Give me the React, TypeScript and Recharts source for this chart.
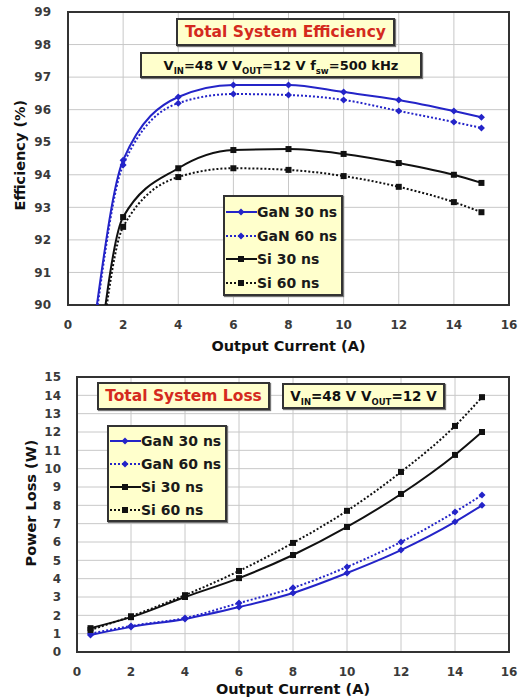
import { CartesianGrid, Line, LineChart, ReferenceArea, XAxis, YAxis } from 'recharts';

const currentTop = [1, 2, 4, 6, 8, 10, 12, 14, 15];
const effGaN30 = [89.7, 94.45, 96.39, 96.76, 96.76, 96.54, 96.3, 95.96, 95.77];
const effGaN60 = [89.5, 94.3, 96.2, 96.48, 96.45, 96.3, 95.96, 95.62, 95.44];
const effSi30 = [87.6, 92.7, 94.2, 94.76, 94.79, 94.64, 94.36, 94.0, 93.75];
const effSi60 = [87.3, 92.4, 93.93, 94.2, 94.15, 93.96, 93.63, 93.16, 92.85];

const currentBottom = [0.5, 2, 4, 6, 8, 10, 12, 14, 15];
const lossGaN30 = [0.93, 1.37, 1.8, 2.45, 3.22, 4.31, 5.56, 7.1, 8.0];
const lossGaN60 = [1.0, 1.42, 1.85, 2.67, 3.5, 4.64, 6.0, 7.64, 8.56];
const lossSi30 = [1.3, 1.9, 3.0, 4.03, 5.29, 6.82, 8.62, 10.75, 12.0];
const lossSi60 = [1.2, 1.95, 3.1, 4.42, 5.95, 7.7, 9.82, 12.33, 13.9];

const xTicks = [0, 2, 4, 6, 8, 10, 12, 14, 16];
const effTicks = [90, 91, 92, 93, 94, 95, 96, 97, 98, 99];
const lossTicks = [0, 1, 2, 3, 4, 5, 6, 7, 8, 9, 10, 11, 12, 13, 14, 15];

const BLUE = '#2424c8';
const BLACK = '#111';
const FONT = '"DejaVu Sans", Verdana, sans-serif';

const seriesDefs = [
    {key: 'gan30', name: 'GaN 30 ns', color: BLUE, dashed: false, marker: 'diamond'},
    {key: 'gan60', name: 'GaN 60 ns', color: BLUE, dashed: true, marker: 'diamond'},
    {key: 'si30', name: 'Si 30 ns', color: BLACK, dashed: false, marker: 'square'},
    {key: 'si60', name: 'Si 60 ns', color: BLACK, dashed: true, marker: 'square'},
];

const effData = currentTop.map((x, i) => ({
    x, gan30: effGaN30[i], gan60: effGaN60[i], si30: effSi30[i], si60: effSi60[i],
}));
const lossData = currentBottom.map((x, i) => ({
    x, gan30: lossGaN30[i], gan60: lossGaN60[i], si30: lossSi30[i], si60: lossSi60[i],
}));

const makeDot = (marker: string, color: string) => (props: any) => {
    const {cx, cy, index} = props;
    if (cx == null || cy == null) return <g key={`d${index}`} />;
    if (marker === 'square') {
        return <rect key={`d${index}`} x={cx - 3} y={cy - 3} width={6} height={6} fill={color} />;
    }
    return (
        <polygon
            key={`d${index}`}
            points={`${cx},${cy - 3.5} ${cx + 3.5},${cy} ${cx},${cy + 3.5} ${cx - 3.5},${cy}`}
            fill={color}
        />
    );
};

const tickStyle = {fontSize: 12, fontWeight: 700, fill: '#3a3a3a', fontFamily: FONT};
const titleStyle = {fontSize: 14.5, fontWeight: 700, fill: '#111', fontFamily: FONT};

const LegendBox = (props: {left: number, top: number, width: number, height: number}) => (
    <div style={{
        position: 'absolute', left: props.left, top: props.top, width: props.width, height: props.height,
        boxSizing: 'border-box', background: '#ffffcc', border: '2px solid #333', fontFamily: FONT,
        fontWeight: 700, fontSize: 14, color: '#1a1a1a', padding: '3px 0 0 0',
        boxShadow: '1px 1px 1px #777',
    }}>
        {seriesDefs.map(s => (
            <div key={s.key} style={{display: 'flex', alignItems: 'center', height: (props.height - 6) / 4}}>
                <svg width={32} height={10} style={{marginLeft: 0}}>
                    <line x1={1} y1={5} x2={32} y2={5} stroke={s.color} strokeWidth={2}
                          strokeDasharray={s.dashed ? '2 2' : undefined} />
                    {s.marker === 'square'
                        ? <rect x={13} y={2} width={6} height={6} fill={s.color} />
                        : <polygon points={'16,1.5 19.5,5 16,8.5 12.5,5'} fill={s.color} />}
                </svg>
                <span>{s.name}</span>
            </div>
        ))}
    </div>
);

const NoteBox = (props: {left: number, top: number, width: number, height: number, color: string, size: number, children: any}) => (
    <div style={{
        position: 'absolute', left: props.left, top: props.top, width: props.width, height: props.height,
        boxSizing: 'border-box', background: '#ffffcc', border: '2px solid #333', fontFamily: FONT,
        fontWeight: 700, fontSize: props.size, color: props.color, display: 'flex', alignItems: 'center',
        justifyContent: 'center', whiteSpace: 'nowrap', boxShadow: '1px 1px 1px #777',
    }}>
        {props.children}
    </div>
);

const sub = (t: string) => <sub style={{fontSize: 8.5, verticalAlign: 'sub', lineHeight: 0}}>{t}</sub>;

const renderLines = () => seriesDefs.map(s => (
    <Line
        key={s.key}
        type={'monotone'}
        dataKey={s.key}
        stroke={s.color}
        strokeWidth={2}
        strokeDasharray={s.dashed ? '2 2' : undefined}
        dot={makeDot(s.marker, s.color)}
        activeDot={false}
        isAnimationActive={false}
    />
));

export default function App() {
    return (
        <div style={{position: 'absolute', left: 0, top: 0, width: 521, height: 698, background: '#fff'}}>
            <div style={{position: 'absolute', left: 0, top: 0}}>
                <LineChart width={521} height={355} data={effData} margin={{top: 12, right: 12, left: 0, bottom: 0}}>
                    <CartesianGrid stroke={'#c8c8c8'} strokeWidth={1} />
                    <XAxis
                        type={'number'}
                        dataKey={'x'}
                        domain={[0, 16]}
                        ticks={xTicks}
                        interval={0}
                        height={50}
                        axisLine={false}
                        tickLine={false}
                        tickMargin={9}
                        tick={tickStyle}
                        label={{value: 'Output Current (A)', position: 'insideBottom', offset: 4, style: titleStyle}}
                    />
                    <YAxis
                        type={'number'}
                        domain={[90, 99]}
                        ticks={effTicks}
                        interval={0}
                        allowDataOverflow={true}
                        width={68}
                        axisLine={false}
                        tickLine={false}
                        tickMargin={11}
                        tick={tickStyle}
                        label={{value: 'Efficiency (%)', angle: -90, position: 'insideLeft', offset: 20, dy: 52, style: titleStyle}}
                    />
                    <ReferenceArea x1={0} x2={16} y1={90} y2={99} fill={'none'} stroke={'#333'} strokeWidth={2} />
                    {renderLines()}
                </LineChart>
            </div>
            <div style={{position: 'absolute', left: 0, top: 355}}>
                <LineChart width={521} height={343} data={lossData} margin={{top: 22, right: 12, left: 0, bottom: 0}}>
                    <CartesianGrid stroke={'#c8c8c8'} strokeWidth={1} />
                    <XAxis
                        type={'number'}
                        dataKey={'x'}
                        domain={[0, 16]}
                        ticks={xTicks}
                        interval={0}
                        height={46}
                        axisLine={false}
                        tickLine={false}
                        tickMargin={9}
                        tick={tickStyle}
                        label={{value: 'Output Current (A)', position: 'insideBottom', offset: 4, style: titleStyle}}
                    />
                    <YAxis
                        type={'number'}
                        domain={[0, 15]}
                        ticks={lossTicks}
                        interval={0}
                        width={77}
                        axisLine={false}
                        tickLine={false}
                        tickMargin={10}
                        tick={tickStyle}
                        label={{value: 'Power Loss (W)', angle: -90, position: 'insideLeft', offset: 31, dy: 52, style: titleStyle}}
                    />
                    <ReferenceArea x1={0} x2={16} y1={0} y2={15} fill={'none'} stroke={'#333'} strokeWidth={2} />
                    {renderLines()}
                </LineChart>
            </div>
            <NoteBox left={176} top={18} width={219} height={28} size={15.5} color={'#d42a1e'}>Total System Efficiency</NoteBox>
            <NoteBox left={140} top={52} width={282} height={26} size={13} color={'#111'}>
                <span>V{sub('IN')}=48 V V{sub('OUT')}=12 V f{sub('sw')}=500 kHz</span>
            </NoteBox>
            <LegendBox left={223} top={195} width={120} height={101} />
            <NoteBox left={97} top={382} width={173} height={28} size={15.5} color={'#d42a1e'}>Total System Loss</NoteBox>
            <NoteBox left={282} top={383} width={163} height={26} size={13.5} color={'#111'}>
                <span>V{sub('IN')}=48 V V{sub('OUT')}=12 V</span>
            </NoteBox>
            <LegendBox left={107} top={425} width={120} height={97} />
        </div>
    );
}
